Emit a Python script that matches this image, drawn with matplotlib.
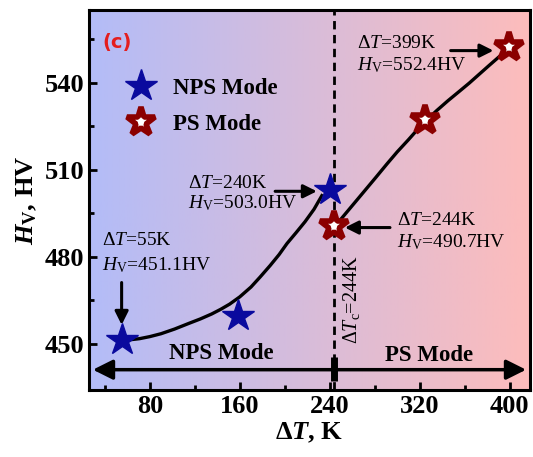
import numpy as np
import matplotlib
matplotlib.use('Agg')
import matplotlib.pyplot as plt
from matplotlib.colors import LinearSegmentedColormap
from matplotlib.lines import Line2D

plt.rcParams['font.family'] = ['Liberation Serif', 'DejaVu Sans']
plt.rcParams['mathtext.fontset'] = 'custom'
plt.rcParams['mathtext.rm'] = 'Liberation Serif'
plt.rcParams['mathtext.it'] = 'Liberation Serif:italic'
plt.rcParams['mathtext.bf'] = 'Liberation Serif:bold'
plt.rcParams['mathtext.bfit'] = 'Liberation Serif:bold:italic'

# measured points
nps_dT = [55, 158, 240]
nps_hv = [451.1, 459.5, 503.0]
ps_dT = [244, 325, 399]
ps_hv = [490.7, 527.0, 552.4]

# fitted curves
nps_fit_dT = [62, 71, 80, 90, 102, 115, 125, 135, 143, 151, 160, 170, 178, 187, 195,
              202, 210, 218, 226, 233]
nps_fit_hv = [451.3, 451.7, 452.4, 453.4, 455.0, 457.0, 458.5, 460.2, 461.8, 463.6,
              466.1, 469.5, 472.9, 476.9, 480.7, 484.5, 488.2, 492.0, 496.3, 501.0]
ps_fit_dT = [248, 259, 270, 281, 291, 300, 310, 318, 326, 335, 345, 355, 364, 373,
             382, 390, 397]
ps_fit_hv = [492.0, 497.1, 502.2, 507.3, 512.0, 516.1, 520.3, 523.8, 527.0, 530.3,
             533.7, 536.9, 539.8, 542.9, 546.0, 548.7, 551.0]

dT_c = 244
x_ticks = [80, 160, 240, 320, 400]
y_ticks = [450, 480, 510, 540]

fig = plt.figure(figsize=(5.33, 4.57), dpi=100)
ax = fig.add_axes([89 / 533, 67 / 457, 441 / 533, 380 / 457])
xlim = (26, 418)
ylim = (434, 565)

# background gradient blue -> pink
cmap = LinearSegmentedColormap.from_list('bg', ['#b3bcf8', '#fdbcbc'])
grad = np.linspace(0, 1, 256).reshape(1, -1)
ax.imshow(grad, cmap=cmap, aspect='auto', extent=[xlim[0], xlim[1], ylim[0], ylim[1]],
          zorder=0)

# fit lines
ax.plot(nps_fit_dT, nps_fit_hv, color='black', lw=2.4, zorder=2)
ax.plot(ps_fit_dT, ps_fit_hv, color='black', lw=2.4, zorder=2)

# critical temperature line
ax.axvline(dT_c, color='black', lw=2, ls=(0, (3, 2)), zorder=1)

# markers
ax.plot(nps_dT, nps_hv, ls='none', marker='*', ms=24, color='#0a0a9e', zorder=3)
ax.plot(ps_dT, ps_hv, ls='none', marker='*', ms=21, mfc='white', mec='#8b0000',
        mew=4, zorder=3)

# mode arrow along the bottom
ax.annotate('', xy=(xlim[0] + 1, 441), xytext=(dT_c, 441),
            arrowprops=dict(arrowstyle='-|>', lw=2.5, color='black', mutation_scale=30),
            zorder=4)
ax.annotate('', xy=(xlim[1] - 1, 441), xytext=(dT_c, 441),
            arrowprops=dict(arrowstyle='-|>', lw=2.5, color='black', mutation_scale=30),
            zorder=4)
ax.plot([dT_c, dT_c], [437, 445.5], color='black', lw=5, solid_capstyle='butt', zorder=4)
ax.text(144, 446.6, 'NPS Mode', fontsize=16.5, fontweight='bold', ha='center', va='center')
ax.text(328, 446.0, 'PS Mode', fontsize=16.5, fontweight='bold', ha='center', va='center')

# annotations
arrow_kw = dict(arrowstyle='-|>', lw=2.2, color='black', mutation_scale=20)
fs = 14
ax.text(38, 485.5, r'Δ$T$=55K', fontsize=fs, va='center', ha='left')
ax.text(38, 477.0, r'$H_\mathrm{V}$=451.1HV', fontsize=fs, va='center', ha='left')
ax.annotate('', xy=(55, 455.5), xytext=(55, 472), arrowprops=arrow_kw)

ax.text(114, 505.2, r'Δ$T$=240K', fontsize=fs, va='center', ha='left')
ax.text(114, 498.3, r'$H_\mathrm{V}$=503.0HV', fontsize=fs, va='center', ha='left')
ax.annotate('', xy=(231, 502.5), xytext=(189, 502.5), arrowprops=arrow_kw)

ax.text(264, 553.4, r'Δ$T$=399K', fontsize=fs, va='center', ha='left')
ax.text(264, 545.9, r'$H_\mathrm{V}$=552.4HV', fontsize=fs, va='center', ha='left')
ax.annotate('', xy=(388, 551.0), xytext=(345, 551.0), arrowprops=arrow_kw)

ax.text(300, 492.4, r'Δ$T$=244K', fontsize=fs, va='center', ha='left')
ax.text(300, 484.8, r'$H_\mathrm{V}$=490.7HV', fontsize=fs, va='center', ha='left')
ax.annotate('', xy=(251, 490.0), xytext=(296, 490.0), arrowprops=arrow_kw)

ax.text(259, 465, r'Δ$T_\mathrm{c}$=244K', fontsize=14.5, rotation=90,
        va='center', ha='center')

ax.text(0.03, 0.915, '(c)', transform=ax.transAxes, color='#e41e1e', fontsize=14,
        fontweight='bold', family='DejaVu Sans', va='center', ha='left')

# legend
handles = [
    Line2D([], [], ls='none', marker='*', ms=24, color='#0a0a9e', label='NPS Mode'),
    Line2D([], [], ls='none', marker='*', ms=21, mfc='white', mec='#8b0000', mew=4,
           label='PS Mode'),
]
ax.legend(handles=handles, loc='upper left', bbox_to_anchor=(0.06, 0.85), frameon=False,
          prop={'weight': 'bold', 'size': 16.5}, handlelength=1.2, handletextpad=0.8,
          labelspacing=0.65, borderpad=0)

ax.set_xlim(xlim)
ax.set_ylim(ylim)
ax.set_xticks(x_ticks)
ax.set_yticks(y_ticks)
ax.set_xticks([40, 120, 200, 280, 360], minor=True)
ax.set_yticks([465, 495, 525, 555], minor=True)
ax.tick_params(which='both', direction='in', width=2, labelsize=19)
ax.tick_params(which='major', length=6)
ax.tick_params(which='minor', length=3.5)
for lab in ax.get_xticklabels() + ax.get_yticklabels():
    lab.set_fontweight('bold')
for sp in ax.spines.values():
    sp.set_linewidth(2.2)

ax.set_xlabel(r'Δ$\mathbfit{T}$, K', fontsize=19, fontweight='bold', labelpad=2)
ax.set_ylabel(r'$\mathbfit{H}_\mathbf{V}$, HV', fontsize=19, fontweight='bold', labelpad=4)

fig.savefig('out.png', dpi=100)
